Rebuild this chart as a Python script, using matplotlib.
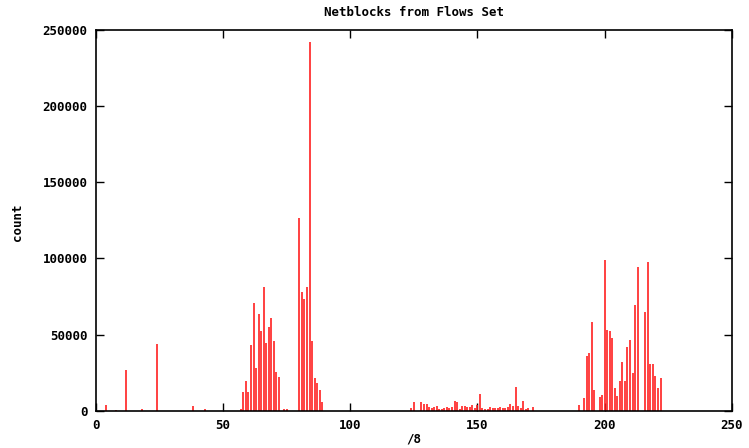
import matplotlib
matplotlib.use("Agg")
import matplotlib.pyplot as plt

# first octet (/8) and flow count
netblock = [4, 8, 12, 18, 24, 38, 43,
            57, 58, 59, 60, 61, 62, 63, 64, 65, 66, 67, 68, 69, 70, 71, 72, 74, 75,
            80, 81, 82, 83, 84, 85, 86, 87, 88, 89,
            124, 125, 128, 129, 130, 131, 132, 133, 134, 135, 136, 137, 138, 139, 140,
            141, 142, 143, 144, 145, 146, 147, 148, 149, 150, 151, 152, 153, 154, 155,
            156, 157, 158, 159, 160, 161, 162, 163, 164, 165, 166, 167, 168, 169, 170, 172,
            190, 192, 193, 194, 195, 196, 198, 199, 200, 201, 202, 203, 204, 205, 206,
            207, 208, 209, 210, 211, 212, 213, 216, 217, 218, 219, 220, 221, 222]
count = [3800, 800, 27000, 1500, 44000, 3300, 1000,
         1000, 12500, 19300, 12500, 43200, 70900, 27800, 63500, 52300, 81400, 44200, 55200, 61000, 46000, 25600, 22300, 1000, 1500,
         126300, 78100, 73300, 81400, 242000, 45800, 21700, 18000, 13600, 5500,
         1800, 5700, 5700, 4600, 4600, 2600, 2000, 2400, 3000, 900, 900, 2000, 2600, 2000, 2600,
         6400, 5700, 1300, 3000, 3000, 2600, 2600, 3500, 2000, 3500, 11200, 2000, 900, 900, 2400,
         2000, 2000, 2000, 2600, 2000, 2000, 2600, 4600, 3000, 15500, 3000, 2000, 6400, 1300, 2000, 2600,
         3900, 8100, 36100, 37900, 58500, 13600, 9200, 10500, 99000, 53000, 52400, 48000, 15100, 9900, 19300,
         32200, 19300, 41800, 46600, 24800, 69600, 94600, 64800, 97700, 30900, 30500, 23000, 15100, 21700]

xticks = [0, 50, 100, 150, 200, 250]
yticks = [0, 50000, 100000, 150000, 200000, 250000]

font = dict(family="DejaVu Sans Mono", weight="bold", size=9)

fig = plt.figure(figsize=(7.49, 4.48), dpi=100)
ax = fig.add_axes([0.128, 0.083, 0.849, 0.85])

ax.vlines(netblock, 0, count, color="#ff2020", linewidth=1.2)

ax.set_xlim(0, 250)
ax.set_ylim(0, 250000)
ax.set_xticks(xticks)
ax.set_yticks(yticks)
ax.set_xticklabels([str(t) for t in xticks], fontdict=font)
ax.set_yticklabels([str(t) for t in yticks], fontdict=font)
ax.tick_params(direction="in", length=6, width=1, top=True, right=True, pad=6)
for s in ax.spines.values():
    s.set_linewidth(1.2)

ax.set_title("Netblocks from Flows Set", fontdict=font, pad=10)
# labels placed by hand, gnuplot style
fig.text(414 / 749, 1 - 439 / 448, "/8", ha="center", va="center", **font)
fig.text(17 / 749, 1 - 222 / 448, "count", ha="center", va="center", rotation=90, **font)

fig.savefig("out.png", dpi=100)
